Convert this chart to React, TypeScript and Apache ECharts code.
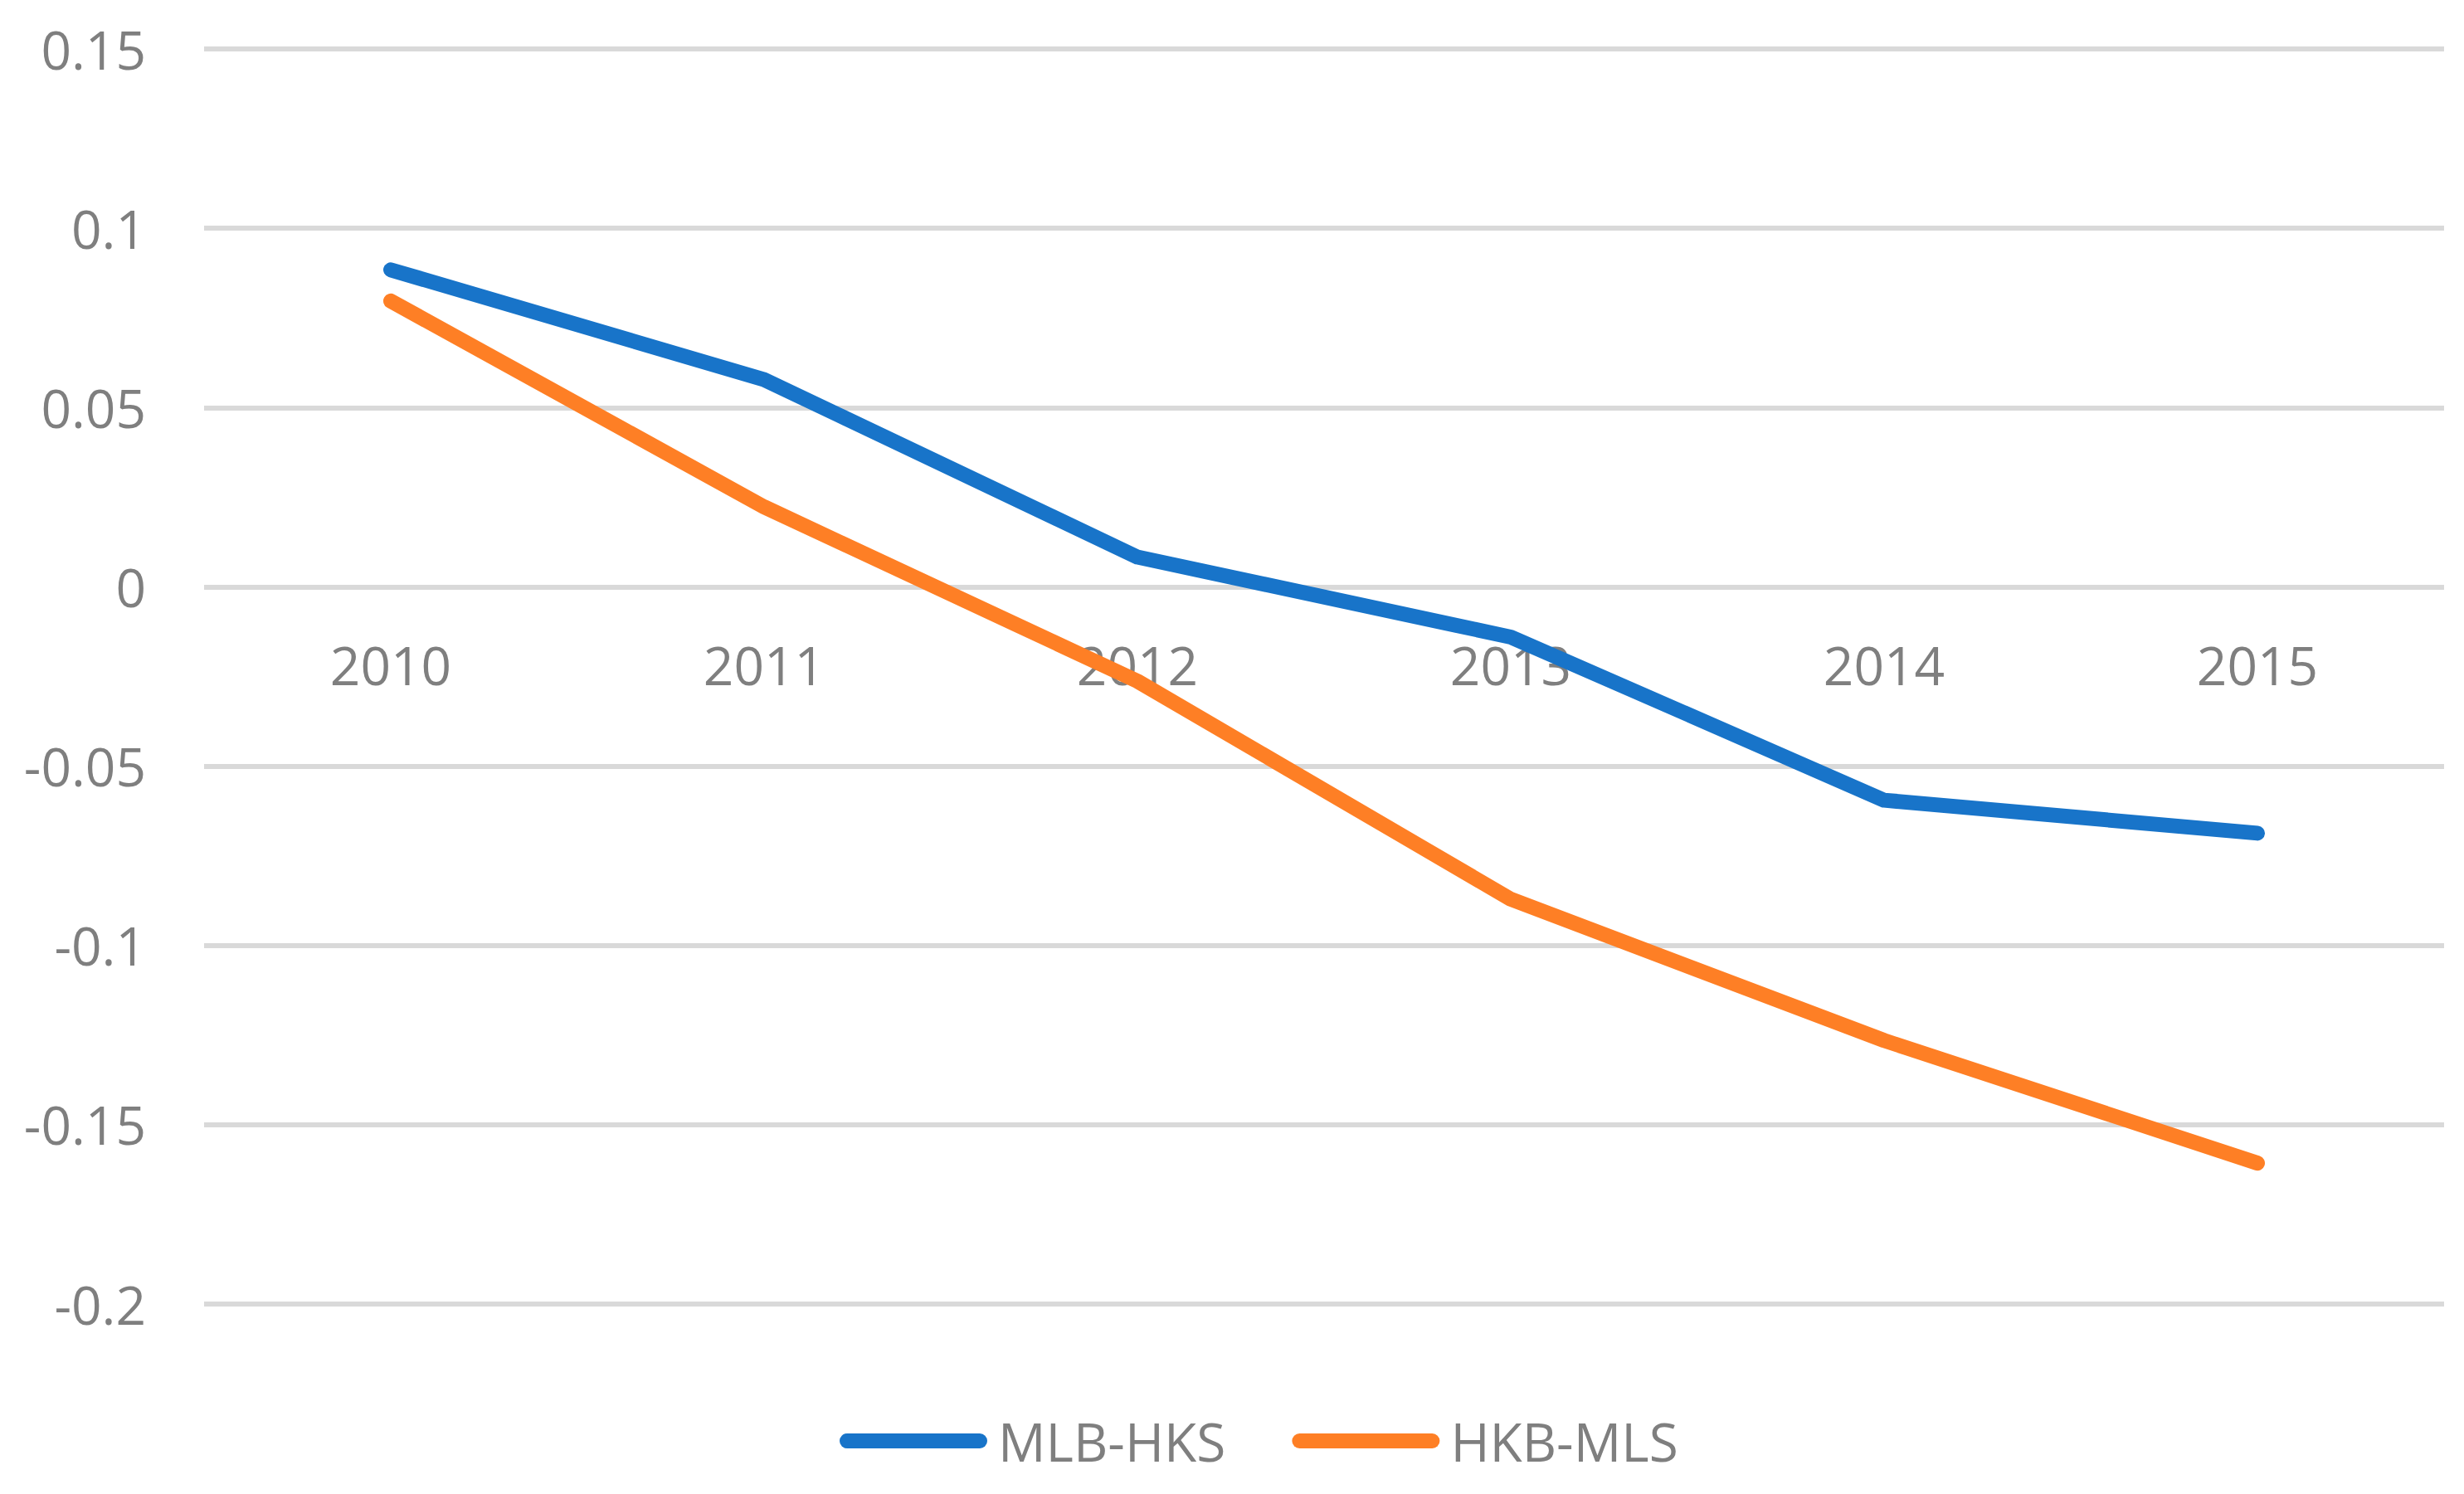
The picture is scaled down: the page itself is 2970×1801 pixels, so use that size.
import React, { useEffect, useRef } from "react";
import * as echarts from "echarts";

const categories = ["2010", "2011", "2012", "2013", "2014", "2015"];
const seriesNames = ["MLB-HKS", "HKB-MLS"];
const mlbHks = [0.0884, 0.0578, 0.0083, -0.014, -0.0595, -0.0687];
const hkbMls = [0.0797, 0.0223, -0.0263, -0.0871, -0.1265, -0.1607];
const yMin = -0.2;
const yMax = 0.15;
const yStep = 0.05;

const FONT = "'Open Sans', 'Liberation Sans', sans-serif";
const GRAY = "#7f7f7f";
const stadium = "path://M9,0 H169 A9,9 0 0 1 169,18 H9 A9,9 0 0 1 9,0 Z";

const GRID_TOP = 59;
const GRID_BOTTOM = 229;
const CHART_H = 1801;

export default function App() {
  const ref = useRef<HTMLDivElement>(null);
  useEffect(() => {
    if (!ref.current) return;
    const chart = echarts.init(ref.current, undefined, { renderer: "svg" });
    // distance from grid bottom to the zero line, so category labels sit under y = 0
    const plotH = CHART_H - GRID_TOP - GRID_BOTTOM;
    const zeroFromBottom = (plotH * (0 - yMin)) / (yMax - yMin);
    chart.setOption({
      animation: false,
      backgroundColor: "#ffffff",
      grid: { left: 246, right: 24, top: GRID_TOP, bottom: GRID_BOTTOM, containLabel: false },
      legend: {
        left: 1007,
        top: 1700,
        itemWidth: 178,
        itemHeight: 18,
        itemGap: 80,
        icon: stadium,
        textStyle: { fontFamily: FONT, fontSize: 64, color: GRAY, padding: [0, 0, 0, 8] },
        data: seriesNames,
      },
      xAxis: {
        type: "category",
        data: categories,
        boundaryGap: true,
        axisLine: { show: false, onZero: false },
        axisTick: { show: false },
        axisLabel: { fontFamily: FONT, fontSize: 64, color: GRAY, margin: 62 - zeroFromBottom },
        splitLine: { show: false },
      },
      yAxis: {
        type: "value",
        min: yMin,
        max: yMax,
        interval: yStep,
        axisLine: { show: false },
        axisTick: { show: false },
        axisLabel: {
          fontFamily: FONT,
          fontSize: 64,
          color: GRAY,
          margin: 70,
          formatter: (v: number) => String(Math.round(v * 100) / 100),
        },
        splitLine: { show: true, lineStyle: { color: "#d9d9d9", width: 6 } },
      },
      series: [
        {
          name: seriesNames[0],
          type: "line",
          data: mlbHks,
          symbol: "none",
          showSymbol: false,
          itemStyle: { color: "#1874c9" },
          lineStyle: { color: "#1874c9", width: 18, cap: "round", join: "round" },
        },
        {
          name: seriesNames[1],
          type: "line",
          data: hkbMls,
          symbol: "none",
          showSymbol: false,
          itemStyle: { color: "#fe7f25" },
          lineStyle: { color: "#fe7f25", width: 18, cap: "round", join: "round" },
        },
      ],
    });
    return () => chart.dispose();
  }, []);
  return (
    <div
      ref={ref}
      style={{ position: "fixed", left: 0, top: 0, width: 2970, height: 1801, background: "#fff" }}
    />
  );
}
